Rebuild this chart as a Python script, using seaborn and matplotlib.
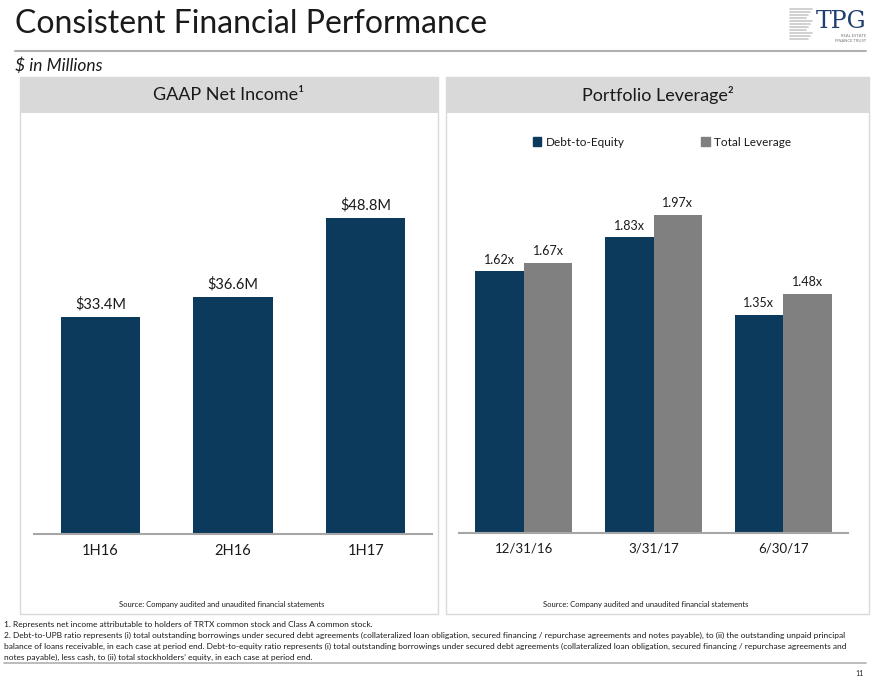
import matplotlib
matplotlib.use("Agg")
import matplotlib.pyplot as plt
import seaborn as sns
import pandas as pd
from matplotlib.patches import Rectangle, Patch
from matplotlib.lines import Line2D

# ------------------------------------------------------------------
# Data
# ------------------------------------------------------------------
periods = ["1H16", "2H16", "1H17"]
net_income = [33.4, 36.6, 48.8]

dates = ["12/31/16", "3/31/17", "6/30/17"]
debt_to_equity = [1.62, 1.83, 1.35]
total_leverage = [1.67, 1.97, 1.48]
series_names = ["Debt-to-Equity", "Total Leverage"]

NAVY = "#0b3a5c"
GRAY = "#808080"
LIGHT = "#d9d9d9"
TEXT = "#1a1a1a"

W, H = 880, 680


def box(x0, y0, x1, y1):
    # pixel box (top-left origin) -> figure fraction rect
    return [x0 / W, 1 - y1 / H, (x1 - x0) / W, (y1 - y0) / H]


def fx(x):
    return x / W


def fy(y):
    return 1 - y / H


sns.set_theme(style="white")
plt.rcParams["font.family"] = ["Lato", "DejaVu Sans"]

fig = plt.figure(figsize=(8.8, 6.8), dpi=100)

# ------------------------------------------------------------------
# Page header
# ------------------------------------------------------------------
fig.text(fx(15), fy(24), "Consistent Financial Performance", fontsize=23,
         color=TEXT, ha="left", va="center")
fig.add_artist(Line2D([fx(15), fx(866)], [fy(51), fy(51)], color="#b0b0b0",
                      lw=1.5, transform=fig.transFigure))
fig.text(fx(15), fy(66), "$ in Millions", fontsize=12.5, style="italic",
         color=TEXT, ha="left", va="center")

# logo
for i in range(11):
    fig.add_artist(Line2D([fx(790), fx(812 - (i % 4) * 2)], [fy(9 + i * 3)] * 2,
                          color="#c8c8c8", lw=1.2, transform=fig.transFigure))
fig.text(fx(866), fy(21), "TPG", fontsize=17, color="#1f3f73",
         family="DejaVu Serif", ha="right", va="center")
fig.text(fx(866), fy(36), "REAL ESTATE", fontsize=3, color="#777777",
         ha="right", va="center")
fig.text(fx(866), fy(41), "FINANCE TRUST", fontsize=3, color="#777777",
         ha="right", va="center")

# ------------------------------------------------------------------
# Panels
# ------------------------------------------------------------------
panels = [(20, 438, "GAAP Net Income\u00b9"), (446, 869, "Portfolio Leverage\u00b2")]
for x0, x1, title in panels:
    fig.add_artist(Rectangle((fx(x0), fy(614)), (x1 - x0) / W, (614 - 77) / H,
                             transform=fig.transFigure, fill=False,
                             edgecolor=LIGHT, lw=1))
    fig.add_artist(Rectangle((fx(x0), fy(113)), (x1 - x0) / W, (113 - 77) / H,
                             transform=fig.transFigure, facecolor=LIGHT,
                             edgecolor="none"))
    fig.text(fx((x0 + x1) / 2), fy(95), title, fontsize=13, color=TEXT,
             ha="center", va="center")

# ------------------------------------------------------------------
# Left chart: GAAP net income
# ------------------------------------------------------------------
ax1 = fig.add_axes(box(34, 145, 432, 534))
sns.barplot(x=periods, y=net_income, color=NAVY, saturation=1, width=0.6,
            linewidth=0, ax=ax1)
ax1.set_ylim(0, 60)
ax1.bar_label(ax1.containers[0], labels=[f"${v}M" for v in net_income],
              padding=4, fontsize=10.5, color=TEXT)

# ------------------------------------------------------------------
# Right chart: portfolio leverage
# ------------------------------------------------------------------
lev = pd.DataFrame({
    "date": dates * 2,
    "series": [series_names[0]] * 3 + [series_names[1]] * 3,
    "value": debt_to_equity + total_leverage,
})
ax2 = fig.add_axes(box(459, 145, 848, 533))
sns.barplot(data=lev, x="date", y="value", hue="series",
            palette=[NAVY, GRAY], saturation=1, width=0.75, linewidth=0, ax=ax2)
ax2.set_ylim(0, 2.4)
ax2.get_legend().remove()
for cont in ax2.containers:
    ax2.bar_label(cont, fmt="{:.2f}x", padding=4, fontsize=9, color=TEXT)

for ax in (ax1, ax2):
    ax.set_facecolor("none")
    ax.set_xlabel("")
    ax.set_ylabel("")
    ax.set_yticks([])
    for side in ("top", "left", "right"):
        ax.spines[side].set_visible(False)
    ax.spines["bottom"].set_color("#a6a6a6")
    ax.spines["bottom"].set_linewidth(1.5)
    ax.tick_params(axis="x", length=0, pad=7, labelsize=10.5, labelcolor=TEXT)

ax2.tick_params(axis="x", labelsize=9.5)

fig.legend(handles=[Patch(color=NAVY), Patch(color=GRAY)], labels=series_names,
           loc="center", bbox_to_anchor=(fx(662), fy(142)), ncol=2,
           frameon=False, fontsize=8.5, handlelength=0.7, handleheight=0.7,
           handletextpad=0.4, columnspacing=6.5, labelcolor=TEXT)

# ------------------------------------------------------------------
# Sources and footnotes
# ------------------------------------------------------------------
src = "Source: Company audited and unaudited financial statements"
fig.text(fx(222), fy(604), src, fontsize=5.5, color=TEXT, ha="center", va="center")
fig.text(fx(646), fy(604), src, fontsize=5.5, color=TEXT, ha="center", va="center")

notes = [
    "1. Represents net income attributable to holders of TRTX common stock and Class A common stock.",
    "2. Debt-to-UPB ratio represents (i) total outstanding borrowings under secured debt agreements "
    "(collateralized loan obligation, secured financing / repurchase agreements and notes payable), "
    "to (ii) the outstanding unpaid principal",
    "balance of loans receivable, in each case at period end. Debt-to-equity ratio represents (i) total "
    "outstanding borrowings under secured debt agreements (collateralized loan obligation, secured "
    "financing / repurchase agreements and",
    "notes payable), less cash, to (ii) total stockholders\u2019 equity, in each case at period end.",
]
for i, line in enumerate(notes):
    fig.text(fx(4), fy(625 + i * 10.7), line, fontsize=6.0, color=TEXT,
             ha="left", va="center")

fig.add_artist(Line2D([fx(4), fx(866)], [fy(663), fy(663)], color="#b0b0b0",
                      lw=1.2, transform=fig.transFigure))
fig.text(fx(864), fy(673), "11", fontsize=5, color=TEXT, ha="right", va="center")

fig.savefig("out.png", dpi=100)
